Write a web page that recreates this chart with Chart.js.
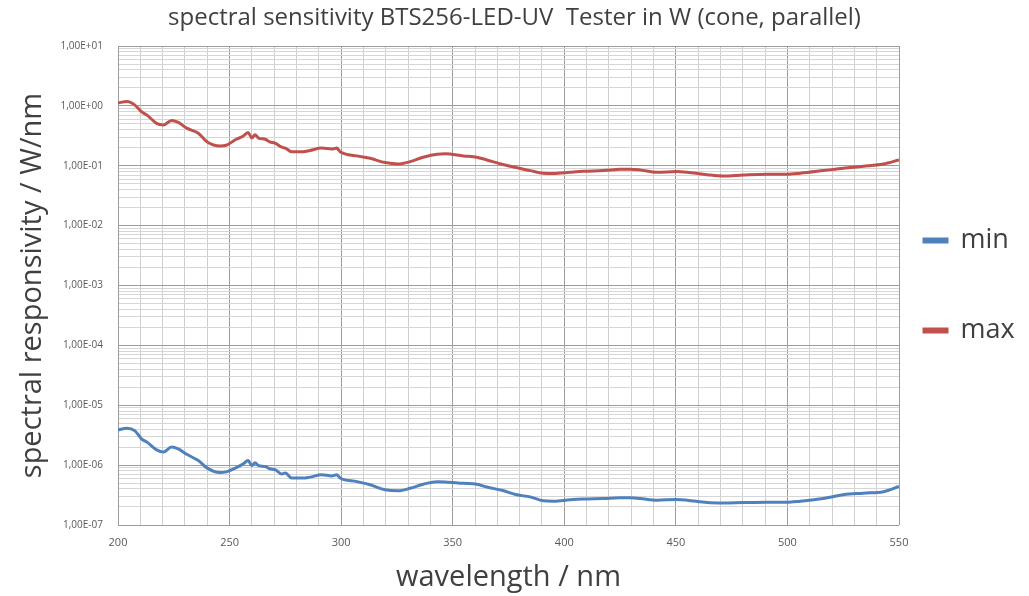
<!DOCTYPE html>
<html>
<head>
<meta charset="utf-8">
<script src="https://cdn.jsdelivr.net/npm/chart.js@4/dist/chart.umd.min.js"></script>
<style>
  html, body { margin: 0; padding: 0; background: #ffffff; }
  #wrap { width: 1029px; height: 596px; }
</style>
</head>
<body>
<div id="wrap"><canvas id="c" width="1029" height="596"></canvas></div>
<script>
// ---- data ----
const wavelengths = [200, 204, 207.6, 210.5, 213, 217.3, 220.3, 224, 227, 231, 236, 240, 245.7, 248.5, 253, 256, 258.3, 260, 261.4, 263, 266, 268, 270.4, 273.4, 275, 277.8, 283, 286, 291.3, 295.8, 298, 299.5, 307, 313, 319.7, 325.6, 330.9, 336.8, 343, 346.6, 354.8, 360.8, 365.3, 372, 378.7, 384.7, 390.6, 395.1, 402.6, 408.6, 417.5, 425, 429.5, 434, 441.5, 450.4, 455, 464, 471.3, 480.3, 490.8, 499.7, 505.7, 516.1, 525.1, 534, 543, 550];

const maxValues = [1.12, 1.18, 1.03, 0.80, 0.70, 0.51, 0.48, 0.57, 0.53, 0.42, 0.35, 0.25, 0.214, 0.22, 0.277, 0.31, 0.36, 0.29, 0.33, 0.29, 0.277, 0.25, 0.238, 0.204, 0.197, 0.172, 0.172, 0.18, 0.197, 0.19, 0.197, 0.172, 0.146, 0.133, 0.113, 0.107, 0.117, 0.139, 0.156, 0.158, 0.146, 0.139, 0.125, 0.106, 0.093, 0.083, 0.075, 0.074, 0.078, 0.081, 0.083, 0.087, 0.0875, 0.085, 0.078, 0.080, 0.078, 0.071, 0.0675, 0.070, 0.072, 0.072, 0.075, 0.083, 0.091, 0.098, 0.107, 0.125];

const minValues = [3.88e-6, 4.14e-6, 3.74e-6, 2.75e-6, 2.42e-6, 1.80e-6, 1.65e-6, 2.0e-6, 1.87e-6, 1.5e-6, 1.19e-6, 8.9e-7, 7.5e-7, 7.7e-7, 9.1e-7, 1.04e-6, 1.19e-6, 9.8e-7, 1.1e-6, 9.8e-7, 9.5e-7, 8.7e-7, 8.4e-7, 7.1e-7, 7.4e-7, 6.07e-7, 6.07e-7, 6.3e-7, 6.9e-7, 6.6e-7, 6.9e-7, 6.1e-7, 5.3e-7, 4.69e-7, 3.87e-7, 3.72e-7, 4.1e-7, 4.8e-7, 5.3e-7, 5.25e-7, 4.96e-7, 4.8e-7, 4.3e-7, 3.8e-7, 3.19e-7, 2.95e-7, 2.54e-7, 2.5e-7, 2.64e-7, 2.72e-7, 2.77e-7, 2.85e-7, 2.85e-7, 2.77e-7, 2.6e-7, 2.67e-7, 2.6e-7, 2.37e-7, 2.33e-7, 2.37e-7, 2.4e-7, 2.4e-7, 2.5e-7, 2.77e-7, 3.2e-7, 3.4e-7, 3.6e-7, 4.4e-7];

const seriesNames = ['min', 'max'];
const xTickLabels = ['200', '250', '300', '350', '400', '450', '500', '550'];
const yTickExponents = [-7, -6, -5, -4, -3, -2, -1, 0, 1];
const yTickLabels = ['1,00E-07', '1,00E-06', '1,00E-05', '1,00E-04', '1,00E-03', '1,00E-02', '1,00E-01', '1,00E+00', '1,00E+01'];
const titleText = 'spectral sensitivity BTS256-LED-UV  Tester in W (cone, parallel)';
const xTitle = 'wavelength / nm';
const yTitle = 'spectral responsivity / W/nm';

// ---- build ----
const FONT = "'Open Sans', 'Liberation Sans', sans-serif";
const toPoints = vals => wavelengths.map((w, i) => ({x: w, y: vals[i]}));

function isDecade(v) {
  const l = Math.log10(v);
  return Math.abs(l - Math.round(l)) < 1e-9;
}

const legendShift = {
  id: 'legendShift',
  beforeDraw(chart) {
    const lg = chart.legend;
    if (!lg) return;
    lg.left = 861;
    lg.right = 1029;
    lg.width = 1029 - 861;
  }
};

new Chart(document.getElementById('c'), {
  type: 'line',
  data: {
    datasets: [
      {
        label: seriesNames[0],
        data: toPoints(minValues),
        borderColor: '#4f81bd',
        backgroundColor: '#4f81bd',
        borderWidth: 3,
        pointRadius: 0,
        cubicInterpolationMode: 'monotone',
        fill: false
      },
      {
        label: seriesNames[1],
        data: toPoints(maxValues),
        borderColor: '#c0504d',
        backgroundColor: '#c0504d',
        borderWidth: 3,
        pointRadius: 0,
        cubicInterpolationMode: 'monotone',
        fill: false
      }
    ]
  },
  options: {
    responsive: false,
    animation: false,
    layout: { padding: 0 },
    plugins: {
      title: {
        display: true,
        text: titleText,
        color: '#404040',
        font: { family: FONT, size: 24, weight: 'normal' },
        padding: { top: 4, bottom: 13.2 }
      },
      legend: {
        display: true,
        position: 'right',
        fullSize: false,
        maxWidth: 130,
        labels: {
          boxWidth: 23,
          boxHeight: 3,
          padding: 63,
          color: '#404040',
          font: { family: FONT, size: 27 }
        }
      },
      tooltip: { enabled: false }
    },
    scales: {
      x: {
        type: 'linear',
        min: 200,
        max: 550,
        afterFit(scale) { scale.height = 71; },
        ticks: {
          stepSize: 10,
          autoSkip: false,
          maxRotation: 0,
          padding: 11,
          color: '#595959',
          font: { family: FONT, size: 11 },
          callback(v) {
            const idx = xTickLabels.indexOf(String(v));
            return idx >= 0 ? xTickLabels[idx] : '';
          }
        },
        grid: {
          drawTicks: false,
          lineWidth: 1,
          color(ctx) {
            const v = ctx.tick ? ctx.tick.value : 0;
            return v % 50 === 0 ? '#9c9c9c' : '#cfcfcf';
          }
        },
        border: { display: false },
        title: {
          display: true,
          text: xTitle,
          color: '#404040',
          font: { family: FONT, size: 29 },
          padding: { top: 0, bottom: 0.6 }
        }
      },
      y: {
        type: 'logarithmic',
        min: 1e-7,
        max: 10,
        afterFit(scale) { scale.width = 118; },
        afterBuildTicks(scale) {
          const ticks = [];
          for (let e = yTickExponents[0]; e < yTickExponents[yTickExponents.length - 1]; e++) {
            for (let m = 1; m <= 9; m++) {
              ticks.push({ value: parseFloat((m * Math.pow(10, e)).toPrecision(3)) });
            }
          }
          ticks.push({ value: Math.pow(10, yTickExponents[yTickExponents.length - 1]) });
          scale.ticks = ticks;
        },
        ticks: {
          autoSkip: false,
          padding: 15,
          color: '#595959',
          font: { family: FONT, size: 10 },
          callback(v) {
            if (!isDecade(v)) return '';
            const e = Math.round(Math.log10(v));
            const idx = yTickExponents.indexOf(e);
            return idx >= 0 ? yTickLabels[idx] : '';
          }
        },
        grid: {
          drawTicks: false,
          lineWidth: 1,
          color(ctx) {
            const v = ctx.tick ? ctx.tick.value : 1;
            return isDecade(v) ? '#9c9c9c' : '#d6d6d6';
          }
        },
        border: { display: true, color: '#9c9c9c' },
        title: {
          display: true,
          text: yTitle,
          color: '#404040',
          font: { family: FONT, size: 29 },
          padding: { top: 15.6, bottom: 0 }
        }
      }
    }
  },
  plugins: [legendShift]
});
</script>
</body>
</html>
